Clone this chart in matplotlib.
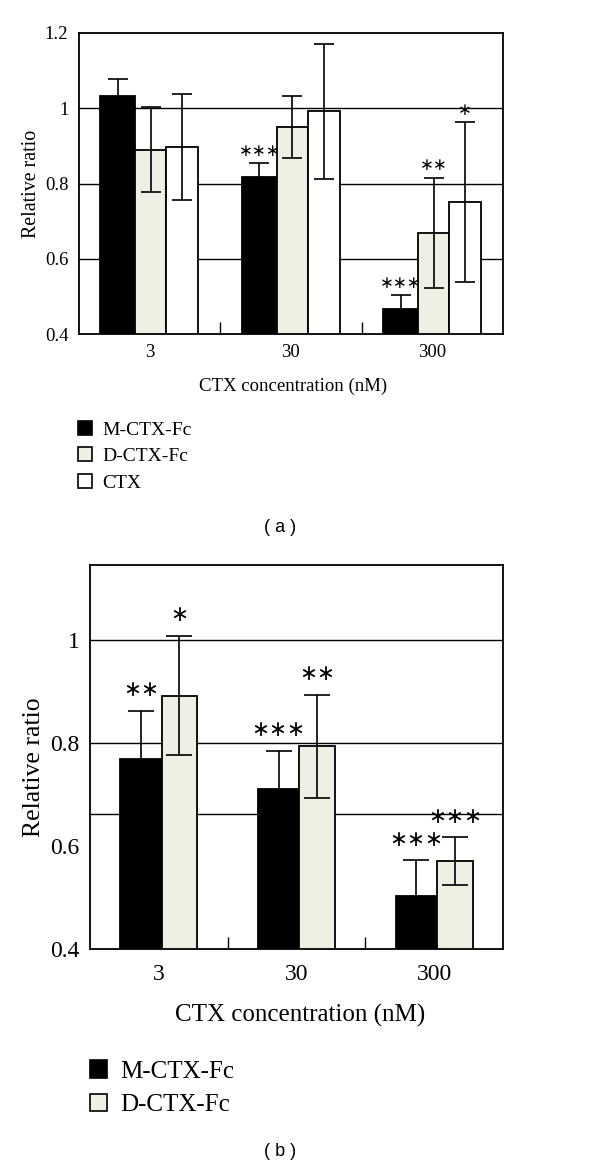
import matplotlib
matplotlib.use('Agg')
import matplotlib.pyplot as plt
import numpy as np
from matplotlib.patches import Patch

# --- data ---
categories = ['3', '30', '300']

# panel (a)
a_series = ['M-CTX-Fc', 'D-CTX-Fc', 'CTX']
a_values = [[1.032, 0.817, 0.466],
            [0.890, 0.949, 0.669],
            [0.897, 0.992, 0.751]]
a_errors = [[0.046, 0.037, 0.038],
            [0.112, 0.082, 0.146],
            [0.140, 0.179, 0.212]]
a_stars = [['', '***', '***'],
           ['', '', '**'],
           ['', '', '*']]

# panel (b)
b_series = ['M-CTX-Fc', 'D-CTX-Fc']
b_values = [[0.770, 0.710, 0.502],
            [0.892, 0.794, 0.571]]
b_errors = [[0.093, 0.075, 0.070],
            [0.116, 0.100, 0.046]]
b_stars = [['**', '***', '***'],
           ['*', '**', '***']]

colors = ['black', '#eef0e3', 'white']
serif = 'Liberation Serif'

W, H = 600, 1168
fig = plt.figure(figsize=(W / 100, H / 100), dpi=100)


def draw_panel(ax, values, errors, stars, widths, ylim, grid, yticks,
               tick_fs, xlabel_fs, ylabel_fs, star_fs, capsize, star_gap, xpad):
    x = np.arange(len(categories))
    total = sum(widths)
    left = x - total / 2
    for i, vals in enumerate(values):
        ax.bar(left, vals, widths[i], bottom=0, align='edge',
               color=colors[i], edgecolor='black', linewidth=1.3, zorder=2)
        ax.errorbar(left + widths[i] / 2, vals, yerr=errors[i], fmt='none',
                    ecolor='black', elinewidth=1.2, capsize=capsize,
                    capthick=1.2, zorder=3)
        for j, s in enumerate(stars[i]):
            if s:
                ax.text(left[j] + widths[i] / 2, vals[j] + errors[i][j] + star_gap,
                        '\u2217' * len(s), ha='center', va='center',
                        fontsize=star_fs, family='DejaVu Sans', zorder=4)
        left = left + widths[i]
    for g in grid:
        ax.axhline(g, color='black', linewidth=1.0, zorder=1)
    ax.set_xlim(-0.5, len(categories) - 0.5)
    ax.set_ylim(*ylim)
    ax.set_xticks(x)
    ax.set_xticklabels(categories, family=serif, fontsize=tick_fs)
    ax.set_xticks(x[:-1] + 0.5, minor=True)
    ax.tick_params(axis='x', which='major', length=0, pad=xpad)
    ax.tick_params(axis='x', which='minor', direction='in', length=9, width=1.0)
    ax.set_yticks(yticks)
    ax.set_yticklabels([('%g' % t) for t in yticks], family=serif, fontsize=tick_fs)
    ax.tick_params(axis='y', length=0, pad=7.3)
    for sp in ax.spines.values():
        sp.set_linewidth(1.3)
    ax.set_xlabel('CTX concentration (nM)', family=serif, fontsize=xlabel_fs, va='baseline')
    ax.set_ylabel('Relative ratio', family=serif, fontsize=ylabel_fs, va='baseline')


# panel (a): axes box in pixels, left 78.5 .. 503, top 32.7 .. 334.3
ax1 = fig.add_axes([78.5 / W, 1 - 334.3 / H, 424.5 / W, 301.6 / H])
draw_panel(ax1, a_values, a_errors, a_stars, [0.245, 0.22, 0.225],
           (0.4, 1.2), [0.6, 0.8, 1.0], [0.4, 0.6, 0.8, 1.0, 1.2],
           tick_fs=13.5, xlabel_fs=13.5, ylabel_fs=14.4, star_fs=12,
           capsize=7.2, star_gap=0.033, xpad=7)
ax1.xaxis.set_label_coords(0.506, -0.188)
ax1.yaxis.set_label_coords(-0.1, 0.5)
h1 = [Patch(facecolor=colors[i], edgecolor='black', linewidth=1.2, label=a_series[i])
      for i in range(len(a_series))]
fig.legend(handles=h1, loc='upper left', bbox_to_anchor=(78.4 / W, 1 - 421 / H),
           frameon=False, prop={'family': serif, 'size': 14}, borderpad=0,
           borderaxespad=0, handlelength=0.69, handleheight=0.72,
           handletextpad=0.55, labelspacing=0.45)
fig.text(280 / W, 1 - 528 / H, '( a )', ha='center', va='center',
         family='Liberation Sans', fontsize=13)

# panel (b): axes box in pixels, left 90 .. 503, top 565 .. 949
ax2 = fig.add_axes([90 / W, 1 - 949 / H, 413 / W, 384 / H])
draw_panel(ax2, b_values, b_errors, b_stars, [0.30, 0.26],
           (0.4, 1.146), [0.662, 0.8, 1.0], [0.4, 0.6, 0.8, 1.0],
           tick_fs=17, xlabel_fs=18, ylabel_fs=18.5, star_fs=15.5,
           capsize=9.6, star_gap=0.04, xpad=10.5)
ax2.xaxis.set_label_coords(0.508, -0.190)
ax2.yaxis.set_label_coords(-0.122, 0.474)
h2 = [Patch(facecolor=colors[i], edgecolor='black', linewidth=1.2, label=b_series[i])
      for i in range(len(b_series))]
fig.legend(handles=h2, loc='upper left', bbox_to_anchor=(90 / W, 1 - 1060 / H),
           frameon=False, prop={'family': serif, 'size': 18}, borderpad=0,
           borderaxespad=0, handlelength=0.66, handleheight=0.72,
           handletextpad=0.56, labelspacing=0.44)
fig.text(280 / W, 1 - 1152 / H, '( b )', ha='center', va='center',
         family='Liberation Sans', fontsize=13)

fig.savefig('out.png', dpi=100)
